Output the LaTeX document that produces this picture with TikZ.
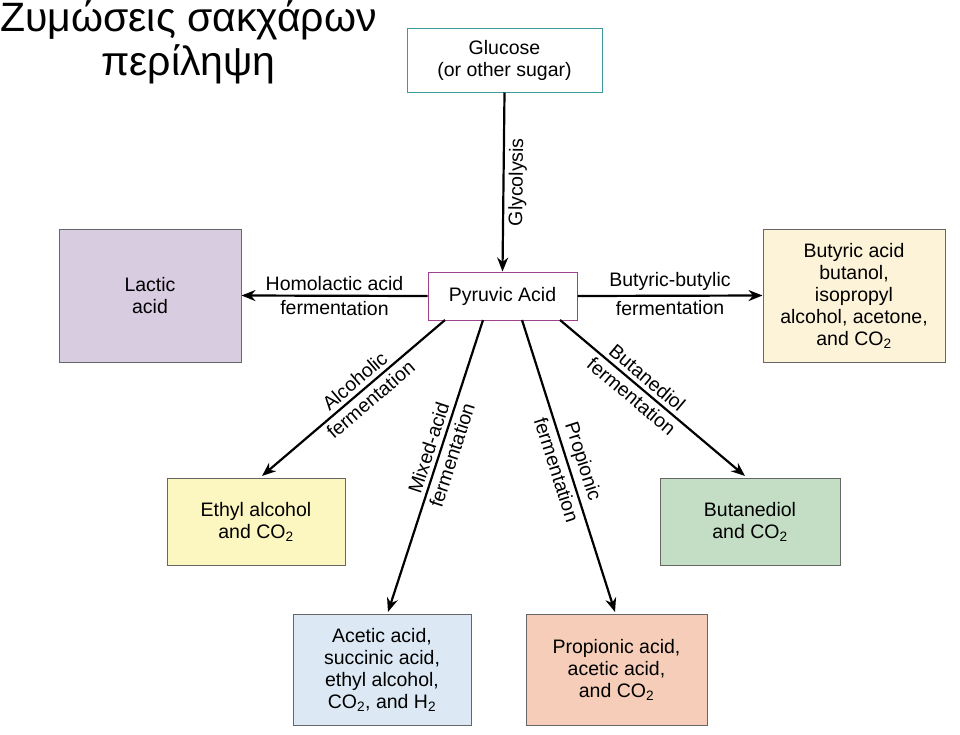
\documentclass[tikz,border=0pt]{standalone}
\usepackage{fontspec}
\setmainfont{Liberation Sans}
\usetikzlibrary{arrows.meta}
\definecolor{lav}{HTML}{D8CCE0}
\definecolor{cream}{HTML}{FDF3D8}
\definecolor{ylw}{HTML}{FCF6C0}
\definecolor{grn}{HTML}{C4DEC6}
\definecolor{blu}{HTML}{DCE9F4}
\definecolor{pch}{HTML}{F5CDB8}
\definecolor{teal}{HTML}{3E9A9A}
\definecolor{mag}{HTML}{A0408F}
\newcommand{\tsub}[1]{\textsubscript{#1}}
\tikzset{
  box/.style={draw=black!60, line width=1pt, align=center, font=\fontsize{19.5}{22}\selectfont, inner sep=0pt},
  arr/.style={line width=2.2pt, -{Stealth[length=14pt,width=11pt]}},
  lbl/.style={sloped, font=\fontsize{19.5}{22}\selectfont, inner sep=4pt},
}
\begin{document}
\begin{tikzpicture}[x=1pt,y=-1pt]
\useasboundingbox (0,0) rectangle (960,734);
\fill[white] (0,0) rectangle (960,734);
\node[font=\fontsize{41}{44}\selectfont, anchor=north west, inner sep=0pt, align=center] (title) at (0,0) {Ζυμώσεις σακχάρων\\περίληψη};
\node[box, draw=teal, minimum width=195pt, minimum height=64pt] (glu) at (504.5,60) {Glucose\\(or other sugar)};
\node[box, draw=mag, minimum width=149pt, minimum height=48pt] (pyr) at (502.5,296) {Pyruvic Acid};
\node[box, fill=lav, minimum width=182pt, minimum height=133pt] (lac) at (150,295.5) {Lactic\\acid};
\node[box, fill=cream, minimum width=182pt, minimum height=133pt] (but) at (854,295.5) {Butyric acid\\butanol,\\isopropyl\\alcohol, acetone,\\and CO\tsub{2}};
\node[box, fill=ylw, minimum width=178pt, minimum height=87pt] (eth) at (256,521.5) {Ethyl alcohol\\and CO\tsub{2}};
\node[box, fill=grn, minimum width=180pt, minimum height=87pt] (bdl) at (750,521.5) {Butanediol\\and CO\tsub{2}};
\node[box, fill=blu, minimum width=178pt, minimum height=111pt] (ace) at (382,669.5) {Acetic acid,\\succinic acid,\\ethyl alcohol,\\CO\tsub{2}, and H\tsub{2}};
\node[box, fill=pch, minimum width=181pt, minimum height=111pt] (pro) at (616.5,669.5) {Propionic acid,\\acetic acid,\\and CO\tsub{2}};
\draw[arr] (glu.south) -- node[lbl, below]{Glycolysis} (pyr.north);
\draw[arr] (pyr.west) -- node[lbl, above]{Homolactic acid} node[lbl, below]{fermentation} (lac.east);
\draw[arr] (pyr.east) -- node[lbl, above]{Butyric-butylic} node[lbl, below]{fermentation} (but.west);
\coordinate (p1) at (445,320);
\coordinate (p2) at (483,320);
\coordinate (p3) at (522,320);
\coordinate (p4) at (560,320);
\coordinate (e1) at (262,476);
\coordinate (e2) at (388,612);
\coordinate (e3) at (615,612);
\coordinate (e4) at (745,476);
\draw[arr] (p1) -- node[lbl, above, pos=0.45]{Alcoholic} node[lbl, below, pos=0.45]{fermentation} (e1);
\draw[arr] (p2) -- node[lbl, above, pos=0.45]{Mixed-acid} node[lbl, below, pos=0.45]{fermentation} (e2);
\draw[arr] (p3) -- node[lbl, above, pos=0.5]{Propionic} node[lbl, below, pos=0.5]{fermentation} (e3);
\draw[arr] (p4) -- node[lbl, above, pos=0.43]{Butanediol} node[lbl, below, pos=0.43]{fermentation} (e4);
\end{tikzpicture}
\end{document}
